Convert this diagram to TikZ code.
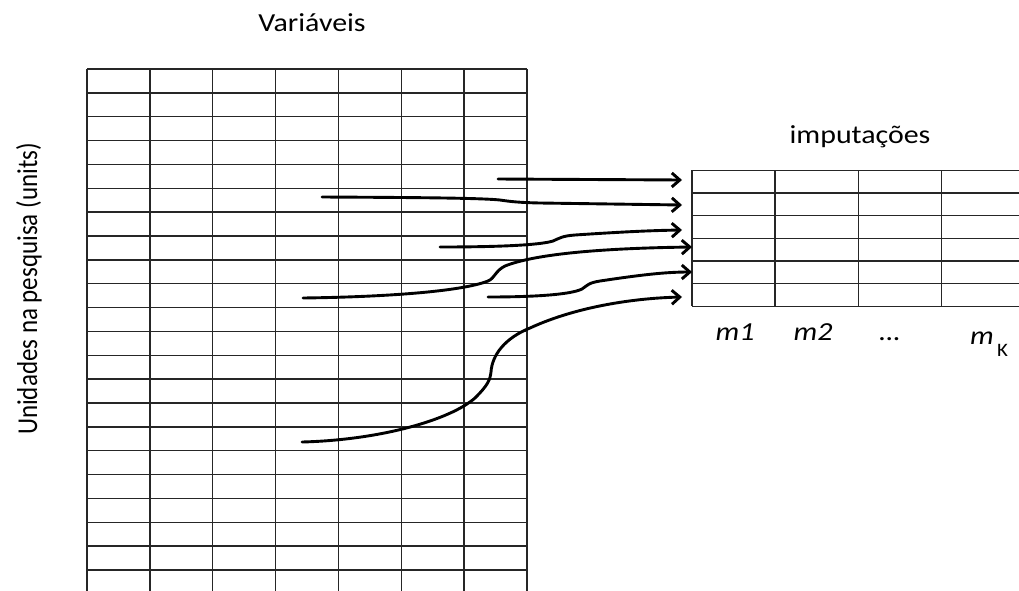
\documentclass[tikz,border=0pt]{standalone}
\usepackage{fontspec}
\setmainfont{Carlito}
\usetikzlibrary{arrows.meta}
\begin{document}
\begin{tikzpicture}[x=1pt, y=-1pt,
  gridline/.style={line width=1.5pt, black!85},
  flow/.style={line width=2.9pt, line cap=round, black,
    -{Straight Barb[length=8pt, width=14pt, line width=2.9pt]}},
  heading/.style={font=\fontsize{26}{30}\selectfont, xscale=1.15, anchor=base, inner sep=0pt},
  colname/.style={font=\itshape\fontsize{26}{30}\selectfont, xscale=1.15, anchor=base, inner sep=0pt},
]
\useasboundingbox (0,0) rectangle (1019,590);
\clip (0,0) rectangle (1019,590);

% data matrix: 7 variables, rows running past the bottom edge
\foreach \i in {0,...,7}
  \draw[gridline] ({87+62.857*\i},69) -- ({87+62.857*\i},595);
\foreach \j in {0,...,21}
  \draw[gridline] (87,{69+23.857*\j}) -- (527,{69+23.857*\j});

% imputation matrix: columns running past the right edge
\foreach \i in {0,...,3}
  \draw[gridline] ({692+83.2*\i},170.3) -- ({692+83.2*\i},306.3);
\foreach \j in {0,...,6}
  \draw[gridline] (692,{170.3+22.67*\j}) -- (1025,{170.3+22.67*\j});

% labels
\node[heading] (vars) at (312,31.7) {Variáveis};
\node[heading] (imp) at (860,143) {imputações};
\node[font=\fontsize{25}{28}\selectfont, xscale=1.15, rotate=90, inner sep=0pt] (units) at (29,289) {Unidades na pesquisa (units)};
\node[colname] (m1) at (735,340) {m1};
\node[colname] (m2) at (813,340) {m2};
\node[colname] (mdots) at (890,340) {\dots};
\node[colname, anchor=base east] (mk) at (994,344) {m};
\node[font=\fontsize{19}{22}\selectfont, xscale=1.1, anchor=base west, inner sep=0pt] (kk) at (997,356) {K};

% start points of the missing values and their target rows
\coordinate (s1) at (498,179);
\coordinate (s2) at (322,197);
\coordinate (s3) at (440,247);
\coordinate (s4) at (303,298);
\coordinate (s5) at (488,297);
\coordinate (s6) at (302,442);
\coordinate (t1) at (682,180);
\coordinate (t2) at (682,205);
\coordinate (t3) at (682,230);
\coordinate (t4) at (692,247);
\coordinate (t5) at (692,272);
\coordinate (t6) at (682,297);

\draw[flow] (s1) -- (t1);
\draw[flow] (s2) .. controls (420,197.5) and (480,198) .. (500,200)
  .. controls (510,201.5) and (518,202.5) .. (540,203) -- (t2);
\draw[flow] (s3) .. controls (500,247) and (540,245) .. (553,241)
  .. controls (560,238) and (562,236) .. (575,235)
  .. controls (620,232) and (650,230.5) .. (t3);
\draw[flow] (s4) .. controls (380,297) and (460,292) .. (488,281)
  .. controls (495,278) and (495,271) .. (505,266)
  .. controls (540,252) and (620,248) .. (t4);
\draw[flow] (s5) .. controls (530,297) and (570,295) .. (582,289)
  .. controls (588,285) and (588,283) .. (600,281)
  .. controls (640,275) and (665,272) .. (t5);
\draw[flow] (s6) .. controls (380,440) and (450,420) .. (475,398)
  .. controls (488,385) and (490,380) .. (491,372)
  .. controls (492,355) and (505,338) .. (530,328)
  .. controls (580,305) and (640,298) .. (t6);
\end{tikzpicture}
\end{document}
